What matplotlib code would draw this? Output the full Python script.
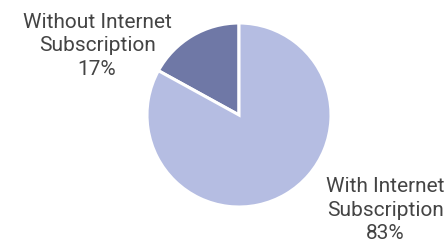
import matplotlib
matplotlib.use("Agg")
import matplotlib.pyplot as plt

labels = ["Without Internet\nSubscription\n17%", "With Internet\nSubscription\n83%"]
values = [17, 83]
colors = ["#6f78a6", "#b5bde2"]

W, H = 448, 243
fig = plt.figure(figsize=(W / 100, H / 100), dpi=100)
ax = fig.add_axes([0, 0, 1, 1])
ax.set_xlim(0, W)
ax.set_ylim(0, H)
ax.set_aspect("equal")
ax.axis("off")

ax.pie(values, colors=colors, startangle=90, counterclock=True,
       center=(239, H - 115), radius=92,
       wedgeprops=dict(edgecolor="white", linewidth=2.2))
ax.set_xlim(0, W)
ax.set_ylim(0, H)

ax.text(97, H - 46, labels[0], ha="center", va="center", fontsize=15,
        family="Roboto", color="#444444", linespacing=1.32)
ax.text(385, H - 210, labels[1], ha="center", va="center", fontsize=15,
        family="Roboto", color="#444444", linespacing=1.28)

fig.savefig("out.png", dpi=100)
